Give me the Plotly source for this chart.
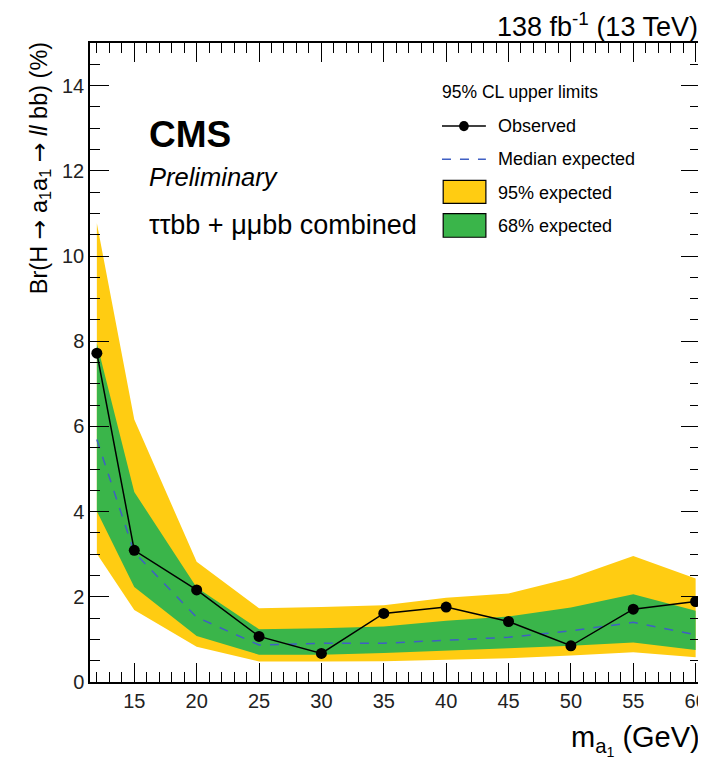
import plotly.graph_objects as go

# mass points (GeV)
mass = [12, 15, 20, 25, 30, 35, 40, 45, 50, 55, 60]

# limits on Br (%)
observed = [7.72, 3.09, 2.16, 1.07, 0.67, 1.61, 1.76, 1.42, 0.85, 1.71, 1.89]
expected = [5.69, 3.04, 1.52, 0.87, 0.91, 0.91, 0.98, 1.05, 1.20, 1.40, 1.11]
exp95_up = [10.77, 6.16, 2.82, 1.73, 1.76, 1.80, 1.98, 2.08, 2.44, 2.96, 2.43]
exp95_dn = [3.01, 1.69, 0.83, 0.48, 0.48, 0.49, 0.53, 0.56, 0.62, 0.70, 0.58]
exp68_up = [7.95, 4.46, 2.22, 1.24, 1.26, 1.30, 1.44, 1.54, 1.75, 2.06, 1.67]
exp68_dn = [4.01, 2.23, 1.08, 0.64, 0.64, 0.68, 0.73, 0.79, 0.85, 0.93, 0.75]

YELLOW = "#FFCC12"
GREEN = "#3AB54A"
BLUE = "#3F5FC4"
FONT = "Liberation Sans, Arial, sans-serif"
ARROW = '<span style="font-family:DejaVu Sans">→</span>'

fig = go.Figure()

# 95% band
fig.add_trace(go.Scatter(x=mass + mass[::-1], y=exp95_up + exp95_dn[::-1],
                         fill="toself", fillcolor=YELLOW, line=dict(width=0),
                         mode="lines", hoverinfo="skip", showlegend=False))
# 68% band
fig.add_trace(go.Scatter(x=mass + mass[::-1], y=exp68_up + exp68_dn[::-1],
                         fill="toself", fillcolor=GREEN, line=dict(width=0),
                         mode="lines", hoverinfo="skip", showlegend=False))
# median expected
fig.add_trace(go.Scatter(x=mass, y=expected, mode="lines",
                         line=dict(color=BLUE, width=1.5, dash="dash"),
                         showlegend=False))
# observed
fig.add_trace(go.Scatter(x=mass, y=observed, mode="lines+markers",
                         line=dict(color="black", width=1.5),
                         marker=dict(color="black", size=11),
                         cliponaxis=False, showlegend=False))

axis_common = dict(
    showline=True, linecolor="black", linewidth=1.5, mirror="ticks",
    ticks="inside", ticklen=19, tickwidth=1.3, tickcolor="black",
    showgrid=False, zeroline=False, automargin=False, ticklabeloverflow="allow",
    tickfont=dict(family=FONT, size=20, color="#222"),
)

fig.update_xaxes(range=[11.45, 60.35], tickvals=[15, 20, 25, 30, 35, 40, 45, 50, 55, 60],
                 minor=dict(ticks="inside", ticklen=10, dtick=1, tick0=0,
                            tickcolor="black", tickwidth=1.2),
                 **axis_common)
fig.update_yaxes(range=[0, 15], dtick=2, tick0=0,
                 minor=dict(ticks="inside", ticklen=10, dtick=0.5, tick0=0,
                            tickcolor="black", tickwidth=1.2),
                 **axis_common)

ann = []
def txt(x, y, t, size, xanchor="left", yanchor="middle", **kw):
    ann.append(dict(x=x, y=y, xref="paper", yref="paper", text=t, showarrow=False,
                    xanchor=xanchor, yanchor=yanchor,
                    font=dict(family=FONT, size=size, color="black"), **kw))

txt(0.093, 0.857, "<b>CMS</b>", 37)
txt(0.093, 0.790, "<i>Preliminary</i>", 25.5)
txt(0.093, 0.715, "ττbb + μμbb combined", 27)
txt(1.0, 1.028, "138 fb<sup>-1</sup> (13 TeV)", 27, xanchor="right")
txt(1.0, -0.091, "m<sub>a<sub>1</sub></sub> (GeV)", 29, xanchor="right", xshift=2)
txt(-0.083, 1.005, "Br(H " + ARROW + " a<sub>1</sub>a<sub>1</sub> " + ARROW +
    " <i>ll</i> bb) (%)", 23.5, xanchor="center", yanchor="top", textangle=-90)

# legend (drawn by hand, ROOT style)
txt(0.574, 0.923, "95% CL upper limits", 17.5)
txt(0.666, 0.870, "Observed", 18)
txt(0.666, 0.818, "Median expected", 18)
txt(0.666, 0.766, "95% expected", 18)
txt(0.666, 0.714, "68% expected", 18)

shapes = [
    dict(type="line", xref="paper", yref="paper", x0=0.577, x1=0.649, y0=0.870, y1=0.870,
         line=dict(color="black", width=1.5)),
    dict(type="circle", xref="paper", yref="paper", x0=0.605, x1=0.621, y0=0.862, y1=0.878,
         fillcolor="black", line=dict(color="black", width=0)),
    dict(type="line", xref="paper", yref="paper", x0=0.577, x1=0.649, y0=0.818, y1=0.818,
         line=dict(color=BLUE, width=1.5, dash="dash")),
    dict(type="rect", xref="paper", yref="paper", x0=0.579, x1=0.649, y0=0.749, y1=0.785,
         fillcolor=YELLOW, line=dict(color="black", width=1.2)),
    dict(type="rect", xref="paper", yref="paper", x0=0.579, x1=0.649, y0=0.696, y1=0.733,
         fillcolor=GREEN, line=dict(color="black", width=1.2)),
]

# page body adds an 8 px margin, so the figure is 8 px smaller each way
fig.update_layout(
    width=698, height=753,
    margin=dict(l=82, r=6, t=35, b=79),
    plot_bgcolor="white", paper_bgcolor="white",
    annotations=ann, shapes=shapes,
    font=dict(family=FONT),
)

fig.write_html("out.html", config=dict(displayModeBar=False))
